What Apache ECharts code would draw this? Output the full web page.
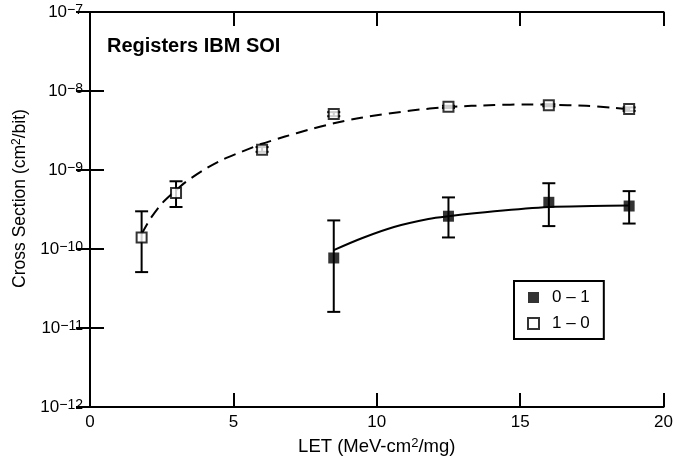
<!DOCTYPE html>
<html lang="en">
<head>
    <meta charset="UTF-8">
    <title>Registers IBM SOI</title>
    <script src="https://cdn.jsdelivr.net/npm/echarts@6/dist/echarts.min.js"></script>
</head>
<body style="margin: 0; background: #fff;">
<div id="container" style="width: 676px; height: 464px;"></div>
<script type="text/javascript">
    // 0 -> 1 upsets (filled squares)
    const let01 = [8.5, 12.5, 16, 18.8];
    const xs01 = [7.7e-11, 2.6e-10, 3.9e-10, 3.5e-10];
    const err01Lo = [1.6e-11, 1.4e-10, 1.95e-10, 2.1e-10];
    const err01Hi = [2.3e-10, 4.5e-10, 6.8e-10, 5.4e-10];

    // 1 -> 0 upsets (open squares)
    const let10 = [1.8, 3.0, 6.0, 8.5, 12.5, 16, 18.8];
    const xs10 = [1.4e-10, 5.1e-10, 1.8e-9, 5.1e-9, 6.3e-9, 6.6e-9, 5.9e-9];
    const err10Lo = [5.1e-11, 3.4e-10, 1.7e-9, 4.8e-9, 6.1e-9, 6.4e-9, 5.6e-9];
    const err10Hi = [3.0e-10, 7.2e-10, 1.95e-9, 5.4e-9, 6.5e-9, 6.8e-9, 6.2e-9];

    // fitted curves
    const fitSolidX = [8.5, 9.5, 10.6, 11.8, 12.5, 14.1, 16.0, 17.5, 18.8];
    const fitSolidY = [9.7e-11, 1.38e-10, 1.9e-10, 2.4e-10, 2.6e-10, 3.0e-10, 3.4e-10, 3.5e-10, 3.55e-10];
    const fitDashX = [1.8, 2.1, 2.5, 2.9, 3.35, 4.0, 4.6, 5.3, 6.0, 6.8, 7.6, 8.5, 9.45, 11.2, 12.5, 14.1, 15.2, 16.0, 17.3, 18.3, 18.8];
    const fitDashY = [1.55e-10, 2.4e-10, 3.75e-10, 5.15e-10, 7.1e-10, 1.02e-9, 1.34e-9, 1.71e-9, 2.15e-9, 2.65e-9,
        3.21e-9, 3.9e-9, 4.59e-9, 5.66e-9, 6.27e-9, 6.65e-9, 6.75e-9, 6.7e-9, 6.5e-9, 6.1e-9, 5.8e-9];

    const xTicks = [0, 5, 10, 15, 20];

    const FONT = 'Liberation Sans';

    function zip(a, b, c) {
        return a.map((v, i) => c ? [v, b[i], c[i]] : [v, b[i]]);
    }

    function errorBar(params, api) {
        let x = api.value(0);
        let lo = api.coord([x, api.value(1)]);
        let hi = api.coord([x, api.value(2)]);
        let w = 6.5;
        let style = {stroke: '#000', lineWidth: 2};
        return {
            type: 'group',
            children: [
                {type: 'line', shape: {x1: lo[0], y1: lo[1], x2: hi[0], y2: hi[1]}, style: style},
                {type: 'line', shape: {x1: lo[0] - w, y1: lo[1], x2: lo[0] + w, y2: lo[1]}, style: style},
                {type: 'line', shape: {x1: hi[0] - w, y1: hi[1], x2: hi[0] + w, y2: hi[1]}, style: style}
            ]
        };
    }

    let dom = document.getElementById("container");
    let myChart = echarts.init(dom);

    let axisLine = {show: true, lineStyle: {color: '#000', width: 2}};
    let tickStyle = {show: true, inside: true, length: 14, lineStyle: {color: '#000', width: 2}};
    // normal text + raised small text for the "2" / exponent
    let supRich = function (size, ratio) {
        return {
            n: {fontFamily: FONT, fontSize: size, color: '#000', verticalAlign: 'bottom', lineHeight: size + 1},
            s: {fontFamily: FONT, fontSize: Math.round(size * ratio), color: '#000', verticalAlign: 'top', lineHeight: size + 1}
        };
    };

    let option = {
        animation: false,
        backgroundColor: '#fff',
        textStyle: {fontFamily: FONT},
        title: {
            text: 'Registers IBM SOI',
            left: 107,
            top: 36,
            padding: 0,
            textStyle: {fontFamily: FONT, fontSize: 20, fontWeight: 'bold', color: '#000'}
        },
        grid: {left: 90, right: 8, top: 12, bottom: 57},
        legend: {
            orient: 'vertical',
            left: 514,
            top: 281,
            padding: [8, 14, 7, 13],
            itemGap: 9,
            itemWidth: 11,
            itemHeight: 11,
            borderColor: '#000',
            borderWidth: 2,
            borderRadius: 0,
            data: ['0 – 1', '1 – 0'],
            textStyle: {fontFamily: FONT, fontSize: 17, color: '#000', padding: [0, 0, 0, 8]}
        },
        xAxis: [{
            type: 'value',
            min: xTicks[0],
            max: xTicks[xTicks.length - 1],
            interval: 5,
            name: '{n|LET (MeV-cm}{s|2}{n|/mg)}',
            nameLocation: 'middle',
            nameGap: 30,
            nameTextStyle: {rich: supRich(18.5, 0.7)},
            axisLine: axisLine,
            axisTick: tickStyle,
            splitLine: {show: false},
            axisLabel: {fontFamily: FONT, fontSize: 17, color: '#000', margin: 7}
        }, {
            type: 'value',
            position: 'top',
            min: xTicks[0],
            max: xTicks[xTicks.length - 1],
            interval: 5,
            axisLine: axisLine,
            axisTick: tickStyle,
            splitLine: {show: false},
            axisLabel: {show: false}
        }],
        yAxis: [{
            type: 'log',
            logBase: 10,
            min: 1e-12,
            max: 1e-7,
            interval: 1,
            name: '{n|Cross Section (cm}{s|2}{n|/bit)}',
            nameLocation: 'middle',
            nameGap: 57,
            nameTextStyle: {rich: supRich(17.5, 0.7), padding: [0, 0, 0, 22]},
            axisLine: axisLine,
            axisTick: tickStyle,
            splitLine: {show: false},
            axisLabel: {
                margin: 7,
                formatter: function (v) {
                    let e = Math.round(Math.log10(v));
                    return '{n|10}{s|−' + Math.abs(e) + '}';
                },
                rich: supRich(17, 0.8)
            }
        }, {
            type: 'log',
            logBase: 10,
            min: 1e-12,
            max: 1e-7,
            interval: 1,
            position: 'right',
            axisLine: axisLine,
            axisTick: tickStyle,
            splitLine: {show: false},
            axisLabel: {show: false}
        }],
        series: [{
            name: 'fit 1-0',
            type: 'line',
            data: zip(fitDashX, fitDashY),
            smooth: 0.25,
            showSymbol: false,
            lineStyle: {color: '#000', width: 2, type: [12, 7]},
            z: 2
        }, {
            name: 'fit 0-1',
            type: 'line',
            data: zip(fitSolidX, fitSolidY),
            smooth: 0.3,
            showSymbol: false,
            lineStyle: {color: '#000', width: 2},
            z: 2
        }, {
            name: 'err 0-1',
            type: 'custom',
            renderItem: errorBar,
            data: zip(let01, err01Lo, err01Hi),
            encode: {x: 0, y: [1, 2]},
            z: 3
        }, {
            name: 'err 1-0',
            type: 'custom',
            renderItem: errorBar,
            data: zip(let10, err10Lo, err10Hi),
            encode: {x: 0, y: [1, 2]},
            z: 3
        }, {
            name: '0 – 1',
            type: 'scatter',
            data: zip(let01, xs01),
            symbol: 'rect',
            symbolSize: 11,
            itemStyle: {color: '#000'},
            z: 5
        }, {
            name: '1 – 0',
            type: 'scatter',
            data: zip(let10, xs10),
            symbol: 'rect',
            symbolSize: 10,
            itemStyle: {color: '#fff', borderColor: '#000', borderWidth: 2},
            z: 5
        }]
    };
    myChart.setOption(option);
</script>
</body>
</html>
